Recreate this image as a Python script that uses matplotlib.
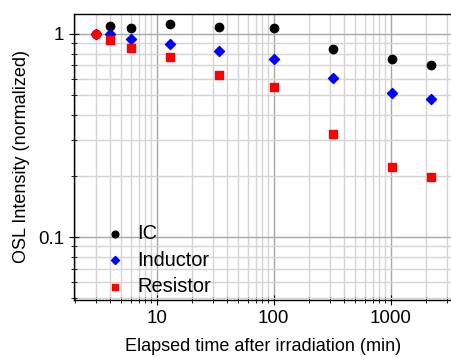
import matplotlib.pyplot as plt
from matplotlib.ticker import FixedLocator, LogLocator, NullFormatter

plt.rcParams['font.family'] = ['Liberation Sans', 'DejaVu Sans']

# elapsed time after irradiation (min)
times = [3, 4, 6, 13, 34, 100, 320, 1020, 2200]

# normalized OSL intensity
ic = [1.0, 1.09, 1.07, 1.12, 1.086, 1.074, 0.844, 0.75, 0.704]
inductor = [1.0, 1.0, 0.948, 0.896, 0.825, 0.756, 0.609, 0.514, 0.478]
resistor = [1.0, 0.937, 0.856, 0.767, 0.63, 0.546, 0.321, 0.221, 0.198]

y_ticks = [0.1, 1]
y_ticklabels = ["0.1", "1"]

fig = plt.figure(figsize=(4.52, 3.58), dpi=100)
ax = fig.add_axes([0.164, 0.162, 0.836, 0.799])

ax.set_xscale("log")
ax.set_yscale("log")
ax.set_xlim(1.97, 3340)
ax.set_ylim(0.049, 1.255)

ax.scatter(times, ic, marker="o", s=36, color="black", label="IC", zorder=3)
ax.scatter(times, inductor, marker="D", s=26, color="blue", label="Inductor", zorder=4)
ax.scatter(times[1:], resistor[1:], marker="s", s=30, color="red", label="Resistor", zorder=5)
# first resistor point drawn as a circle in the original
ax.scatter(times[:1], resistor[:1], marker="o", s=36, color="red", zorder=5)

ax.yaxis.set_major_locator(FixedLocator(y_ticks))
ax.set_yticklabels(y_ticklabels)
ax.yaxis.set_minor_locator(LogLocator(base=10, subs=range(2, 10)))
ax.yaxis.set_minor_formatter(NullFormatter())
ax.xaxis.set_minor_locator(LogLocator(base=10, subs=range(2, 10)))
ax.xaxis.set_minor_formatter(NullFormatter())
ax.set_xticks([10, 100, 1000])
ax.set_xticklabels(["10", "100", "1000"])

ax.grid(True, which="minor", color="#d4d4d4", linewidth=1.0, zorder=0)
ax.grid(True, which="major", color="#a8a8a8", linewidth=1.0, zorder=0)
ax.set_axisbelow(True)

for side in ["top", "right"]:
    ax.spines[side].set_visible(False)
ax.spines["left"].set_linewidth(1.0)
ax.spines["bottom"].set_linewidth(1.0)
ax.plot([0, 1], [1, 1], transform=ax.transAxes, color="black", lw=1.0, clip_on=False)

ax.tick_params(which="both", direction="inout", color="black", labelsize=13.5)
ax.tick_params(which="major", length=7)
ax.tick_params(which="minor", length=5)

ax.set_xlabel("Elapsed time after irradiation (min)", fontsize=13, labelpad=8)
ax.set_ylabel("OSL Intensity (normalized)", fontsize=13, labelpad=6)

ax.legend(loc="lower left", bbox_to_anchor=(0.018, -0.05), frameon=False,
          fontsize=14.4, handletextpad=0.3, handlelength=1.6,
          labelspacing=0.38, markerscale=0.8)

fig.savefig("out.png", dpi=100)
